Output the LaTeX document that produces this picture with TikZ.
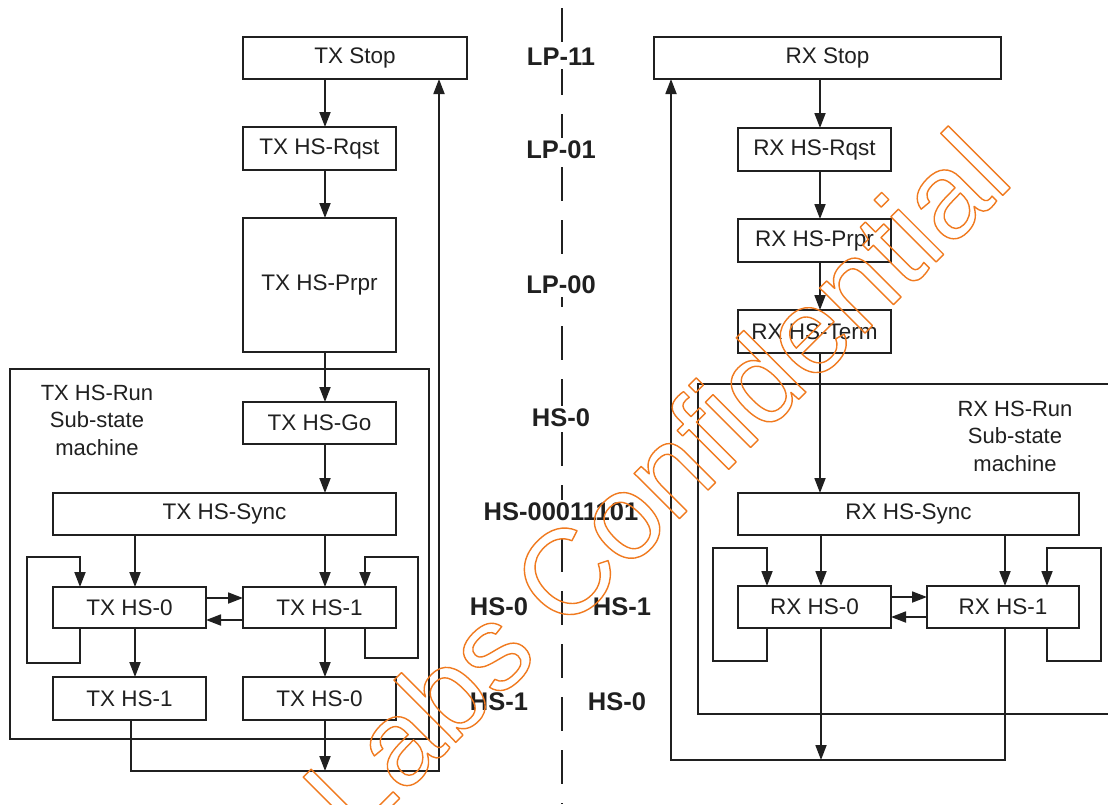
\documentclass[tikz,border=0pt]{standalone}
\usepackage{fontspec}
\setmainfont{Liberation Sans}
\usetikzlibrary{arrows.meta}
\definecolor{ink}{HTML}{202020}
\definecolor{wm}{HTML}{F07A1E}
\newcommand{\wmoutline}[1]{\special{pdf:literal direct q 1 Tr 1.4 w 1 j 0.94 0.48 0.12 RG}#1\special{pdf:literal direct Q}}
\begin{document}
\begin{tikzpicture}[x=1pt,y=-1pt,
  box/.style={draw=ink, line width=1.8pt, inner sep=0pt, outer sep=0pt, font=\fontsize{22.5}{26}\selectfont, text=ink},
  frame/.style={draw=ink, line width=1.8pt, inner sep=0pt, outer sep=0pt},
  arr/.style={draw=ink, line width=1.8pt, -{Triangle[length=15pt,width=11pt]}},
  lbl/.style={font=\bfseries\fontsize{25.5}{30}\selectfont, text=ink, fill=white, inner sep=3pt},
  lblb/.style={font=\bfseries\fontsize{25.5}{30}\selectfont, text=ink, inner sep=0pt},
  subl/.style={font=\fontsize{22}{27.5}\selectfont, text=ink, align=center, inner sep=0pt}]
\useasboundingbox (0,0) rectangle (1108,804);
\fill[white] (0,0) rectangle (1108,804);

% centre dash line
\draw[ink, line width=1.8pt, dash pattern=on 34pt off 19pt] (562,8) -- (562,804);

% ---------- TX side ----------
\node[frame, minimum width=419pt, minimum height=370pt] (txrun) at (219.5,554) {};
\node[box, minimum width=224pt, minimum height=42pt] (txstop) at (355,58) {TX Stop};
\node[box, minimum width=153pt, minimum height=43pt] (txrqst) at (319.5,148.5) {TX HS-Rqst};
\node[box, minimum width=153pt, minimum height=134pt] (txprpr) at (319.5,285) {TX HS-Prpr};
\node[box, minimum width=153pt, minimum height=42pt] (txgo) at (319.5,423) {TX HS-Go};
\node[box, minimum width=343pt, minimum height=42pt] (txsync) at (224.5,514) {TX HS-Sync};
\node[box, minimum width=153pt, minimum height=41pt] (txa0) at (129.5,607.5) {TX HS-0};
\node[box, minimum width=153pt, minimum height=41pt] (txa1) at (319.5,607.5) {TX HS-1};
\node[box, minimum width=153pt, minimum height=43pt] (txb1) at (129.5,698.5) {TX HS-1};
\node[box, minimum width=153pt, minimum height=43pt] (txb0) at (319.5,698.5) {TX HS-0};
\node[subl] (txsub) at (97,420) {TX HS-Run\\Sub-state\\machine};

\draw[arr] (txstop.south -| 325,0) -- (txrqst.north -| 325,0);
\draw[arr] (txrqst.south -| 325,0) -- (txprpr.north -| 325,0);
\draw[arr] (txprpr.south -| 325,0) -- (txgo.north -| 325,0);
\draw[arr] (txgo.south -| 325,0) -- (txsync.north -| 325,0);
\draw[arr] (txsync.south -| 135,0) -- (txa0.north -| 135,0);
\draw[arr] (txsync.south -| 325,0) -- (txa1.north -| 325,0);
\draw[arr] (txa0.east |- 0,598) -- (txa1.west |- 0,598);
\draw[arr] (txa1.west |- 0,620) -- (txa0.east |- 0,620);
\draw[arr] (txa0.south -| 80,0) -- (80,663) -| (27,557) -| (txa0.north -| 80,0);
\draw[arr] (txa1.south -| 365,0) -- (365,658) -| (418,557) -| (txa1.north -| 365,0);
\draw[arr] (txa0.south -| 135,0) -- (txb1.north -| 135,0);
\draw[arr] (txa1.south -| 325,0) -- (txb0.north -| 325,0);
\draw[arr] (txb1.south -| 131,0) |- (439,771) -- (txstop.south -| 439,0);
\draw[arr] (txb0.south -| 325,0) -- (325,771);

% ---------- RX side ----------
\node[frame, minimum width=424pt, minimum height=330pt] (rxrun) at (910,549) {};
\node[box, minimum width=347pt, minimum height=42pt] (rxstop) at (827.5,58) {RX Stop};
\node[box, minimum width=153pt, minimum height=43pt] (rxrqst) at (814.5,149.5) {RX HS-Rqst};
\node[box, minimum width=153pt, minimum height=43pt] (rxprpr) at (814.5,240.5) {RX HS-Prpr};
\node[box, minimum width=153pt, minimum height=43pt] (rxterm) at (814.5,331.5) {RX HS-Term};
\node[box, minimum width=341pt, minimum height=42pt] (rxsync) at (908.5,514) {RX HS-Sync};
\node[box, minimum width=153pt, minimum height=42pt] (rxa0) at (814.5,607) {RX HS-0};
\node[box, minimum width=152pt, minimum height=42pt] (rxa1) at (1003,607) {RX HS-1};
\node[subl] (rxsub) at (1015,436) {RX HS-Run\\Sub-state\\machine};

\draw[arr] (rxstop.south -| 820,0) -- (rxrqst.north -| 820,0);
\draw[arr] (rxrqst.south -| 820,0) -- (rxprpr.north -| 820,0);
\draw[arr] (rxprpr.south -| 820,0) -- (rxterm.north -| 820,0);
\draw[arr] (rxterm.south -| 820,0) -- (rxsync.north -| 820,0);
\draw[arr] (rxsync.south -| 821,0) -- (rxa0.north -| 821,0);
\draw[arr] (rxsync.south -| 1005,0) -- (rxa1.north -| 1005,0);
\draw[arr] (rxa0.east |- 0,597) -- (rxa1.west |- 0,597);
\draw[arr] (rxa1.west |- 0,617) -- (rxa0.east |- 0,617);
\draw[arr] (rxa0.south -| 767,0) -- (767,661) -| (713,548) -| (rxa0.north -| 767,0);
\draw[arr] (rxa1.south -| 1047,0) -- (1047,661) -| (1101,548) -| (rxa1.north -| 1047,0);
\draw[arr] (rxa0.south -| 821,0) -- (821,760);
\draw[arr] (rxa1.south -| 1005,0) |- (671,760) -- (rxstop.south -| 671,0);

% ---------- centre labels ----------
\node[lbl] (l1) at (561,57) {LP-11};
\node[lbl] (l2) at (561,150) {LP-01};
\node[lbl] (l3) at (561,285) {LP-00};
\node[lbl] (l4) at (561,418) {HS-0};
\node[lbl] (l5) at (561,512) {HS-00011101};
\node[lblb] (l6) at (499,607) {HS-0};
\node[lblb] (l7) at (622,607) {HS-1};
\node[lblb] (l8) at (499,702) {HS-1};
\node[lblb] (l9) at (617,702) {HS-0};

% ---------- watermark ----------
\begin{scope}
\clip (0,0) rectangle (1108,804);
\node[rotate=45, anchor=base west, inner sep=0pt, outer sep=0pt] (wmk) at (355,843)
  {\fontsize{121}{121}\selectfont\wmoutline{Labs Confidential}};
\end{scope}
\end{tikzpicture}
\end{document}
